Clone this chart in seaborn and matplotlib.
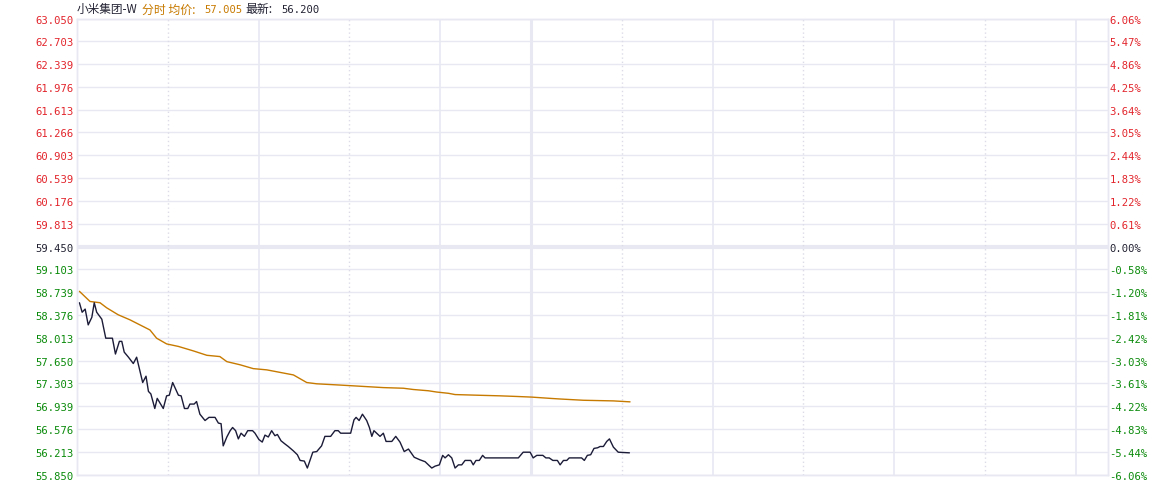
import numpy as np
import pandas as pd
import seaborn as sns
import matplotlib
matplotlib.use("Agg")
import matplotlib.pyplot as plt

# minutes since 9:30 (lunch break removed), price vertices
price_minute = [0.8, 1.7, 2.7, 3.7, 4.9, 5.7, 6.5, 8.2, 9.5, 11.7, 12.7, 14.0, 14.8, 15.6, 17.0,
                18.6, 19.7, 21.7, 22.8, 23.6, 24.4, 25.7, 26.5, 28.5, 29.6, 30.5, 31.6, 33.5,
                34.4, 35.5, 36.6, 37.3, 38.7, 39.5, 40.6, 42.3, 43.6, 45.6, 46.7, 47.6, 48.3,
                49.5, 50.6, 51.4, 52.4, 53.3, 54.2, 55.3, 56.4, 58.0, 58.8, 60.1, 61.2, 62.1,
                63.2, 64.3, 65.4, 66.2, 67.4, 68.7, 69.8, 71.5, 72.8, 73.7, 75.1, 76.1, 77.9,
                79.2, 80.8, 81.9, 83.8, 85.2, 86.3, 87.1, 90.4, 91.5, 92.2, 93.2, 94.3, 95.7,
                96.6, 97.4, 98.1, 100.1, 101.2, 102.1, 104.0, 105.3, 106.7, 108.1, 109.5,
                111.4, 113.3, 115.0, 116.1, 117.2, 118.3, 119.7, 120.8, 121.6, 122.7, 123.8,
                124.9, 126.0, 127.1, 128.2, 130.1, 130.9, 131.8, 132.9, 134.0, 134.8, 145.8,
                147.4, 149.7, 150.7, 151.9, 153.9, 154.9, 156.0, 157.2, 158.7, 159.6, 160.7,
                161.8, 162.6, 166.7, 167.6, 168.6, 169.7, 170.8, 172.0, 172.8, 173.9, 175.0,
                175.9, 177.2, 178.8, 182.5]
price = [58.57, 58.42, 58.47, 58.22, 58.34, 58.57, 58.42, 58.31, 58.01, 58.01, 57.76, 57.96,
         57.96, 57.79, 57.71, 57.61, 57.71, 57.31, 57.41, 57.17, 57.13, 56.90, 57.06, 56.90,
         57.10, 57.11, 57.31, 57.11, 57.10, 56.90, 56.90, 56.97, 56.97, 57.01, 56.81, 56.71,
         56.76, 56.76, 56.67, 56.66, 56.31, 56.45, 56.55, 56.60, 56.55, 56.42, 56.51, 56.46,
         56.55, 56.55, 56.51, 56.41, 56.37, 56.48, 56.45, 56.55, 56.47, 56.49, 56.39, 56.34,
         56.30, 56.23, 56.17, 56.08, 56.07, 55.96, 56.21, 56.22, 56.31, 56.46, 56.46, 56.55,
         56.55, 56.51, 56.51, 56.72, 56.76, 56.71, 56.81, 56.71, 56.60, 56.46, 56.55, 56.46,
         56.51, 56.38, 56.38, 56.46, 56.37, 56.22, 56.26, 56.13, 56.09, 56.06, 56.01, 55.96,
         55.99, 56.01, 56.16, 56.12, 56.17, 56.12, 55.96, 56.01, 56.01, 56.08, 56.08, 56.01,
         56.08, 56.08, 56.16, 56.12, 56.12, 56.21, 56.21, 56.12, 56.16, 56.16, 56.12, 56.12,
         56.08, 56.08, 56.01, 56.08, 56.08, 56.12, 56.12, 56.08, 56.16, 56.17, 56.27, 56.28,
         56.30, 56.30, 56.38, 56.42, 56.29, 56.21, 56.20]

avg_minute = [0.8, 4.3, 7.6, 9.8, 13.6, 17.5, 20.8, 24.1, 26.3, 29.6, 33.5, 38.4, 42.9, 47.2,
              49.5, 53.9, 58.2, 62.7, 67.1, 71.5, 75.9, 79.2, 86.9, 94.1, 101.2, 107.8, 111.1,
              116.1, 118.8, 122.7, 124.9, 132.1, 139.7, 145.3, 150.2, 156.3, 159.6, 167.3,
              177.2, 182.7]
avg_price = [58.75, 58.59, 58.57, 58.49, 58.38, 58.30, 58.22, 58.14, 58.01, 57.92, 57.88, 57.81,
             57.74, 57.72, 57.64, 57.59, 57.53, 57.51, 57.47, 57.43, 57.31, 57.29, 57.27, 57.25,
             57.23, 57.22, 57.20, 57.18, 57.16, 57.14, 57.12, 57.11, 57.10, 57.09, 57.08, 57.06,
             57.05, 57.03, 57.02, 57.005]

prev_close = 59.450
price_ticks = [63.050, 62.703, 62.339, 61.976, 61.613, 61.266, 60.903, 60.539, 60.176, 59.813,
               59.450, 59.103, 58.739, 58.376, 58.013, 57.650, 57.303, 56.939, 56.576, 56.213,
               55.850]
pct_labels = ["6.06%", "5.47%", "4.86%", "4.25%", "3.64%", "3.05%", "2.44%", "1.83%", "1.22%",
              "0.61%", "0.00%", "-0.58%", "-1.20%", "-1.81%", "-2.42%", "-3.03%", "-3.61%",
              "-4.22%", "-4.83%", "-5.44%", "-6.06%"]
solid_minutes = [60, 120, 210, 270, 330]
dotted_minutes = [30, 90, 180, 240, 300]
lunch_minute = 150

RED = "#e2252c"
GREEN = "#0a8a0a"
DARK = "#222233"
ORANGE = "#c77a00"
GRID = "#e8e8f3"

sns.set_style("white")
plt.rcParams["font.family"] = ["DejaVu Sans Mono"]

fig = plt.figure(figsize=(11.71, 4.81), dpi=100)
ax = fig.add_axes([77 / 1171, 5 / 481, (1108 - 77) / 1171, (476 - 20) / 481])

for p in price_ticks:
    lw = 3 if p == prev_close else 1.0
    ax.axhline(p, color=GRID, lw=lw, zorder=0)
for m in solid_minutes:
    ax.axvline(m, color=GRID, lw=1.2, zorder=0)
for m in dotted_minutes:
    ax.axvline(m, color="#dcdce8", lw=1, ls=(0, (1, 2)), zorder=0)
ax.axvline(lunch_minute, color=GRID, lw=2.2, zorder=0)

df_avg = pd.DataFrame({"minute": avg_minute, "price": avg_price})
df_price = pd.DataFrame({"minute": price_minute, "price": price})
sns.lineplot(data=df_avg, x="minute", y="price", ax=ax, color=ORANGE, lw=1, sort=False)
sns.lineplot(data=df_price, x="minute", y="price", ax=ax, color="#1b1b38", lw=1, sort=False)

ax.set_xlim(0, 340.6)
ax.set_ylim(55.850, 63.050)
ax.set_xticks([])
ax.set_xlabel("")
ax.set_ylabel("")

ax.set_yticks(price_ticks)
ax.set_yticklabels([f"{p:.3f}" for p in price_ticks])
ax.tick_params(axis="y", length=0, pad=2.5, labelsize=7.6)
for lab, p in zip(ax.get_yticklabels(), price_ticks):
    lab.set_color(RED if p > prev_close else (GREEN if p < prev_close else DARK))

ax2 = ax.twinx()
ax2.set_ylim(ax.get_ylim())
ax2.set_yticks(price_ticks)
ax2.set_yticklabels(pct_labels)
ax2.tick_params(axis="y", length=0, pad=1, labelsize=7.6)
for lab, p in zip(ax2.get_yticklabels(), price_ticks):
    lab.set_color(RED if p > prev_close else (GREEN if p < prev_close else DARK))

for a in (ax, ax2):
    for s in a.spines.values():
        s.set_color(GRID)
        s.set_linewidth(1.0)

# title pieces: CJK text and monospaced numbers
title_y = 1 - 10 / 481
cjk = ["Noto Sans CJK SC", "DejaVu Sans"]
mono = ["DejaVu Sans Mono"]
title_parts = [
    (77, "小米集团-W", cjk, 8.4, DARK),
    (142, "分时 均价:", cjk, 8.6, ORANGE),
    (204, "57.005", mono, 7.6, ORANGE),
    (245, "最新:", cjk, 8.6, DARK),
    (281, "56.200", mono, 7.6, DARK),
]
for px, txt, fam, size, col in title_parts:
    fig.text(px / 1171, title_y, txt, family=fam, fontsize=size, color=col, va="center")

fig.savefig("out.png", dpi=100)
